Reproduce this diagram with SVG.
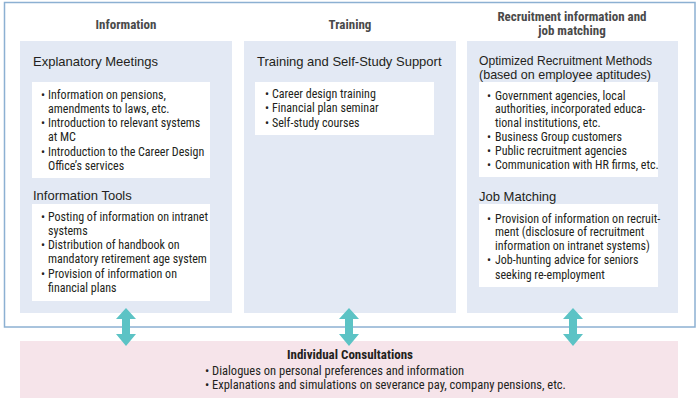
<svg xmlns="http://www.w3.org/2000/svg" xmlns:xlink="http://www.w3.org/1999/xlink" width="700" height="405" viewBox="0 0 700 405">
<style>
.frame{fill:#ffffff;stroke:#8cb0d2;stroke-width:1.5}
.panel{fill:#e3e9f4}
.box{fill:#ffffff}
.pink{fill:#f6e4ea}
.cat{font-family:"Liberation Sans Narrow","Roboto Condensed","Liberation Sans",Arial,sans-serif;font-size:13px;font-weight:bold;fill:#4a4a4a;text-anchor:middle}
.hd{font-family:"Liberation Sans",Arial,sans-serif;font-size:13px;fill:#231f20}
.bl{font-family:"Liberation Sans Narrow","Roboto Condensed","Liberation Sans",Arial,sans-serif;font-size:12px;fill:#231f20}
.pb{font-family:"Liberation Sans Narrow","Roboto Condensed","Liberation Sans",Arial,sans-serif;font-size:12.5px;fill:#231f20}
.ic{font-family:"Liberation Sans Narrow","Roboto Condensed","Liberation Sans",Arial,sans-serif;font-size:13px;font-weight:bold;fill:#231f20;text-anchor:middle}
.arr{fill:#5cc3c5}
</style>
<defs>
<polygon id="dbl" points="0,308 10,319 4,319 4,334 10,334 0,346 -10,334 -4,334 -4,319 -10,319"/>
</defs>
<rect class="frame" x="4.5" y="2.5" width="690.5" height="324.5"/>
<g id="information">
<rect class="panel" x="20" y="41" width="212" height="272"/>
<text class="cat" x="126" y="29">Information</text>
<text class="hd" x="33" y="66">Explanatory Meetings</text>
<rect class="box" x="32" y="82" width="178" height="96"/>
<text class="bl"><tspan x="41" y="99">•</tspan><tspan x="48" y="99">Information on pensions,</tspan><tspan x="48" y="113">amendments to laws, etc.</tspan><tspan x="41" y="127">•</tspan><tspan x="48" y="127">Introduction to relevant systems</tspan><tspan x="48" y="141">at MC</tspan><tspan x="41" y="156">•</tspan><tspan x="48" y="156">Introduction to the Career Design</tspan><tspan x="48" y="170">Office’s services</tspan></text>
<text class="hd" x="33" y="200">Information Tools</text>
<rect class="box" x="32" y="204" width="178" height="97"/>
<text class="bl"><tspan x="41" y="221">•</tspan><tspan x="48" y="221">Posting of information on intranet</tspan><tspan x="48" y="235">systems</tspan><tspan x="41" y="249">•</tspan><tspan x="48" y="249">Distribution of handbook on</tspan><tspan x="48" y="263">mandatory retirement age system</tspan><tspan x="41" y="278">•</tspan><tspan x="48" y="278">Provision of information on</tspan><tspan x="48" y="292">financial plans</tspan></text>
</g>
<g id="training">
<rect class="panel" x="244" y="41" width="212" height="272"/>
<text class="cat" x="350" y="29">Training</text>
<text class="hd" x="257" y="66">Training and Self-Study Support</text>
<rect class="box" x="255" y="82" width="179" height="53"/>
<text class="bl"><tspan x="265" y="98">•</tspan><tspan x="272" y="98">Career design training</tspan><tspan x="265" y="112">•</tspan><tspan x="272" y="112">Financial plan seminar</tspan><tspan x="265" y="127">•</tspan><tspan x="272" y="127">Self-study courses</tspan></text>
</g>
<g id="recruitment">
<rect class="panel" x="467" y="41" width="211" height="272"/>
<text class="cat"><tspan x="572" y="21">Recruitment information and</tspan><tspan x="572" y="35">job matching</tspan></text>
<text class="hd" x="479" y="65" textLength="173" lengthAdjust="spacingAndGlyphs">Optimized Recruitment Methods</text>
<text class="hd" x="479" y="79" textLength="172" lengthAdjust="spacingAndGlyphs">(based on employee aptitudes)</text>
<rect class="box" x="479" y="82" width="179" height="95"/>
<text class="bl"><tspan x="487" y="100">•</tspan><tspan x="495" y="100">Government agencies, local</tspan><tspan x="495" y="113">authorities, incorporated educa-</tspan><tspan x="495" y="127">tional institutions, etc.</tspan><tspan x="487" y="141">•</tspan><tspan x="495" y="141">Business Group customers</tspan><tspan x="487" y="155">•</tspan><tspan x="495" y="155">Public recruitment agencies</tspan><tspan x="487" y="169">•</tspan><tspan x="495" y="169">Communication with HR firms, etc.</tspan></text>
<text class="hd" x="479" y="201">Job Matching</text>
<rect class="box" x="479" y="204" width="179" height="83"/>
<text class="bl"><tspan x="487" y="223">•</tspan><tspan x="495" y="223">Provision of information on recruit-</tspan><tspan x="495" y="236">ment (disclosure of recruitment</tspan><tspan x="495" y="250">information on intranet systems)</tspan><tspan x="487" y="264">•</tspan><tspan x="495" y="264">Job-hunting advice for seniors</tspan><tspan x="495" y="279">seeking re-employment</tspan></text>
</g>
<g id="consultations">
<rect class="pink" x="20" y="341" width="658" height="57"/>
<text class="ic" x="350" y="359">Individual Consultations</text>
<text class="pb"><tspan x="205" y="375">•</tspan><tspan x="212" y="375">Dialogues on personal preferences and information</tspan><tspan x="205" y="389">•</tspan><tspan x="212" y="389">Explanations and simulations on severance pay, company pensions, etc.</tspan></text>
</g>
<g id="connectors">
<use class="arr" xlink:href="#dbl" x="126"/>
<use class="arr" xlink:href="#dbl" x="349"/>
<use class="arr" xlink:href="#dbl" x="573"/>
</g>
</svg>
